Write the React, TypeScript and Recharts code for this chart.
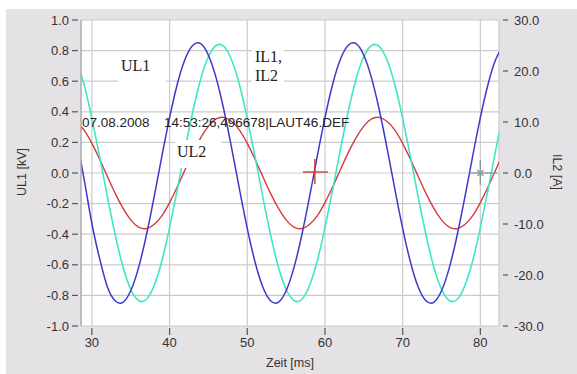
import React from 'react';
import { LineChart, Line, XAxis, YAxis, CartesianGrid, ReferenceDot } from 'recharts';

// Zeit in ms, one sample per ms (curves are splined between them)
const zeit = [
  28, 29, 30, 31, 32, 33, 34, 35, 36, 37, 38, 39, 40, 41, 42, 43, 44, 45, 46, 47,
  48, 49, 50, 51, 52, 53, 54, 55, 56, 57, 58, 59, 60, 61, 62, 63, 64, 65, 66, 67,
  68, 69, 70, 71, 72, 73, 74, 75, 76, 77, 78, 79, 80, 81, 82, 83,
];

// UL1 [kV] (blue, left axis)
const ul1 = [
  0.22, -0.04, -0.33, -0.56, -0.745, -0.835, -0.845, -0.77, -0.62, -0.41, -0.16, 0.107, 0.362, 0.582, 0.745, 0.835, 0.845, 0.77, 0.62, 0.41,
  0.16, -0.107, -0.362, -0.582, -0.745, -0.835, -0.845, -0.77, -0.62, -0.41, -0.16, 0.107, 0.362, 0.582, 0.745, 0.835, 0.845, 0.77, 0.62, 0.41,
  0.16, -0.107, -0.362, -0.582, -0.745, -0.835, -0.845, -0.77, -0.62, -0.41, -0.16, 0.107, 0.362, 0.582, 0.745, 0.835,
];

// IL1 [A] (turquoise, right axis)
const il1 = [
  22.1, 17.3, 10.7, 3.2, -4.7, -12.1, -18.4, -22.8, -25.0, -24.8, -22.1, -17.3, -10.7, -3.2, 4.7, 12.1, 18.4, 22.8, 25.0, 24.8,
  22.1, 17.3, 10.7, 3.2, -4.7, -12.1, -18.4, -22.8, -25.0, -24.8, -22.1, -17.3, -10.7, -3.2, 4.7, 12.1, 18.4, 22.8, 25.0, 24.8,
  22.1, 17.3, 10.7, 3.2, -4.7, -12.1, -18.4, -22.8, -25.0, -24.8, -22.1, -17.3, -10.7, -3.2, 4.7, 12.1,
];

// IL2 [A] (red, right axis)
const il2 = [
  10.1, 8.4, 5.8, 2.7, -0.7, -4.0, -6.9, -9.2, -10.6, -10.9, -10.1, -8.4, -5.8, -2.7, 0.7, 4.0, 6.9, 9.2, 10.6, 10.9,
  10.1, 8.4, 5.8, 2.7, -0.7, -4.0, -6.9, -9.2, -10.6, -10.9, -10.1, -8.4, -5.8, -2.7, 0.7, 4.0, 6.9, 9.2, 10.6, 10.9,
  10.1, 8.4, 5.8, 2.7, -0.7, -4.0, -6.9, -9.2, -10.6, -10.9, -10.1, -8.4, -5.8, -2.7, 0.7, 4.0,
];

const zeitTicks = [30, 40, 50, 60, 70, 80];
const kvTicks = [-1.0, -0.8, -0.6, -0.4, -0.2, 0.0, 0.2, 0.4, 0.6, 0.8, 1.0];
const ampTicks = [-30, -20, -10, 0, 10, 20, 30];

// cursor positions [ms]
const cursorRed = 58.7;
const cursorGray = 80;

const sans = '"Liberation Sans", Arial, sans-serif';
const serif = '"Liberation Serif", "Times New Roman", serif';
const txt = '#333';

const rows = zeit.map((t, i) => ({ t, ul1: ul1[i], il1: il1[i], il2: il2[i] }));

const LeftTick = (props: any) => {
  const { x, y, payload } = props;
  return (
    <g>
      <line x1={x - 9} x2={x - 3} y1={y} y2={y} stroke="#555" strokeWidth={1.2} />
      <text x={x - 12} y={y + 4.5} textAnchor="end" fontSize={13} fontFamily={sans} fill={txt}>
        {Number(payload.value).toFixed(1)}
      </text>
    </g>
  );
};

const RightTick = (props: any) => {
  const { x, y, payload } = props;
  return (
    <g>
      <line x1={x + 4} x2={x + 9} y1={y} y2={y} stroke="#555" strokeWidth={1.2} />
      <text x={x + 15} y={y + 4.5} textAnchor="start" fontSize={13} fontFamily={sans} fill={txt}>
        {Number(payload.value).toFixed(1)}
      </text>
    </g>
  );
};

const BottomTick = (props: any) => {
  const { x, y, payload } = props;
  return (
    <g>
      <line x1={x} x2={x} y1={y + 2} y2={y + 9} stroke="#555" strokeWidth={1.2} />
      <text x={x} y={y + 21} textAnchor="middle" fontSize={13} fontFamily={sans} fill={txt}>
        {payload.value}
      </text>
    </g>
  );
};

const RedCursor = (props: any) => {
  const { cx, cy } = props;
  return (
    <g stroke="#d23a3a" strokeWidth={1.4}>
      <line x1={cx - 12} x2={cx + 13} y1={cy - 1} y2={cy - 1} />
      <line x1={cx} x2={cx} y1={cy - 14} y2={cy + 11} />
    </g>
  );
};

const GrayCursor = (props: any) => {
  const { cx, cy } = props;
  return (
    <g stroke="#8c9c9c" strokeWidth={1.4}>
      <line x1={cx - 11} x2={cx + 17} y1={cy} y2={cy} />
      <line x1={cx} x2={cx} y1={cy - 13} y2={cy + 12} />
      <line x1={cx - 3} x2={cx + 3} y1={cy - 3} y2={cy + 3} />
      <line x1={cx - 3} x2={cx + 3} y1={cy + 3} y2={cy - 3} />
    </g>
  );
};

export default function App() {
  return (
    <div style={{ position: 'fixed', left: 0, top: 0, width: 577, height: 374, background: '#fff', overflow: 'hidden' }}>
      <div style={{ position: 'absolute', left: 6, top: 9, right: 0, bottom: 0, background: '#e5e2e5' }} />
      <div style={{ position: 'absolute', left: 0, top: 0 }}>
        <LineChart width={577} height={374} data={rows} margin={{ top: 20, right: 0, bottom: 0, left: 0 }}>
          <CartesianGrid yAxisId="left" stroke="#cbcbcb" strokeWidth={1.2} fill="#ffffff" fillOpacity={1} />
          <XAxis
            dataKey="t"
            type="number"
            domain={[28.6, 82.4]}
            allowDataOverflow
            ticks={zeitTicks}
            interval={0}
            height={48}
            axisLine={false}
            tickLine={false}
            tickSize={0}
            tickMargin={0}
            tick={BottomTick}
          />
          <YAxis
            yAxisId="left"
            orientation="left"
            domain={[-1, 1]}
            allowDataOverflow
            ticks={kvTicks}
            interval={0}
            width={81}
            axisLine={{ stroke: '#a8a8a8', strokeWidth: 1.2 }}
            tickLine={false}
            tickSize={0}
            tickMargin={0}
            tick={LeftTick}
          />
          <YAxis
            yAxisId="right"
            orientation="right"
            domain={[-30, 30]}
            allowDataOverflow
            ticks={ampTicks}
            interval={0}
            width={78}
            axisLine={false}
            tickLine={false}
            tickSize={0}
            tickMargin={0}
            tick={RightTick}
          />
          <Line yAxisId="right" dataKey="il2" type="natural" stroke="#d43c3c" strokeWidth={1.4} dot={false} isAnimationActive={false} />
          <Line yAxisId="right" dataKey="il1" type="natural" stroke="#3fe6c6" strokeWidth={1.6} dot={false} isAnimationActive={false} />
          <Line yAxisId="left" dataKey="ul1" type="natural" stroke="#3a3ac6" strokeWidth={1.5} dot={false} isAnimationActive={false} />
          <ReferenceDot yAxisId="left" x={cursorRed} y={0} shape={RedCursor} />
          <ReferenceDot yAxisId="left" x={cursorGray} y={0} shape={GrayCursor} />
        </LineChart>
      </div>
      <svg width={577} height={374} style={{ position: 'absolute', left: 0, top: 0, pointerEvents: 'none' }}>
        <rect x={118} y={54} width={48} height={34} fill="#fff" />
        <rect x={252} y={45} width={32} height={41} fill="#fff" />
        <rect x={175} y={140} width={46} height={28} fill="#fff" />
        <text x={121} y={71} fontSize={16} fontFamily={serif} fill="#222">UL1</text>
        <text x={255} y={62} fontSize={16} fontFamily={serif} fill="#222">IL1,</text>
        <text x={255} y={81} fontSize={16} fontFamily={serif} fill="#222">IL2</text>
        <text x={177} y={157} fontSize={16} fontFamily={serif} fill="#222">UL2</text>
        <text x={82} y={127} fontSize={13.5} fontFamily={sans} fill="#222">07.08.2008</text>
        <text x={164} y={127} fontSize={13.5} fontFamily={sans} fill="#222">14:53:26,496678|LAUT46.DEF</text>
        <text transform="translate(26,172) rotate(-90)" textAnchor="middle" fontSize={12.5} fontFamily={sans} fill={txt}>UL1 [kV]</text>
        <text transform="translate(553,172) rotate(90)" textAnchor="middle" fontSize={12.5} fontFamily={sans} fill={txt}>IL2 [A]</text>
        <text x={290} y={367} textAnchor="middle" fontSize={12.5} fontFamily={sans} fill={txt}>Zeit [ms]</text>
      </svg>
    </div>
  );
}
